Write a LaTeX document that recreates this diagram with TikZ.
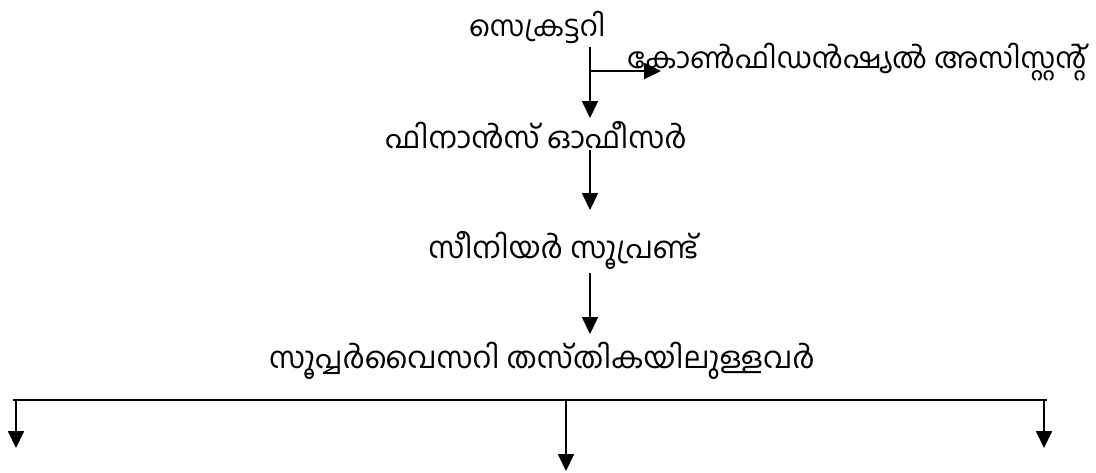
\documentclass[tikz,border=0pt]{standalone}
\usepackage{fontspec}
\newfontfamily\mlfont[Script=Malayalam]{Hind Kochi}
\usepackage{tikz}
\usetikzlibrary{positioning,arrows.meta}
\tikzstyle{post}=[inner sep=0pt, font=\mlfont\fontsize{21.2}{25}\selectfont, text=black]
\tikzstyle{link}=[draw=black, line width=0.8pt, -{Triangle[length=0.42cm,width=0.4cm]}]
\tikzstyle{bus}=[draw=black, line width=0.9pt]

\begin{document}
\begin{tikzpicture}
            \useasboundingbox (0,0) rectangle (27.4,11.8);
            \node (1)[post, font=\mlfont\fontsize{20.3}{24}\selectfont] at (13.43,11.12) {സെക്രട്ടറി};
            \node (2)[post, font=\mlfont\fontsize{20.4}{24}\selectfont] at (21.425,10.25) {കോൺഫിഡൻഷ്യൽ അസിസ്റ്റന്റ്};
            \node (3)[post] at (13.4,8.43) {ഫിനാൻസ് ഓഫീസർ};
            \node (4)[post] at (14.08,5.55) {സീനിയർ സൂപ്രണ്ട്};
            \node (5)[post] at (13.55,2.78) {സൂപ്പർവൈസറി തസ്തികയിലുള്ളവർ};
            % arrow ends
            \coordinate (1s) at (14.75,10.625);
            \coordinate (1b) at (14.75,10.025);
            \coordinate (2w) at (16.525,10.025);
            \coordinate (3n) at (14.75,8.85);
            \coordinate (3s) at (14.75,8.05);
            \coordinate (4n) at (14.75,6.55);
            \coordinate (4s) at (14.75,4.975);
            \coordinate (5n) at (14.75,3.45);
            \coordinate (bl) at (0.325,1.8);
            \coordinate (br) at (26.175,1.8);
            \coordinate (b1) at (0.4,1.8);
            \coordinate (b2) at (14.15,1.8);
            \coordinate (b3) at (26.1,1.8);
            \coordinate (t1) at (0.4,0.6);
            \coordinate (t2) at (14.15,0.025);
            \coordinate (t3) at (26.1,0.6);
            \draw[link] (1s) -- (3n);
            \draw[link] (1b) -- (2w);
            \draw[link] (3s) -- (4n);
            \draw[link] (4s) -- (5n);
            \draw[bus] (bl) -- (br);
            \draw[link] (b1) -- (t1);
            \draw[link] (b2) -- (t2);
            \draw[link] (b3) -- (t3);
        \end{tikzpicture}
\end{document}
